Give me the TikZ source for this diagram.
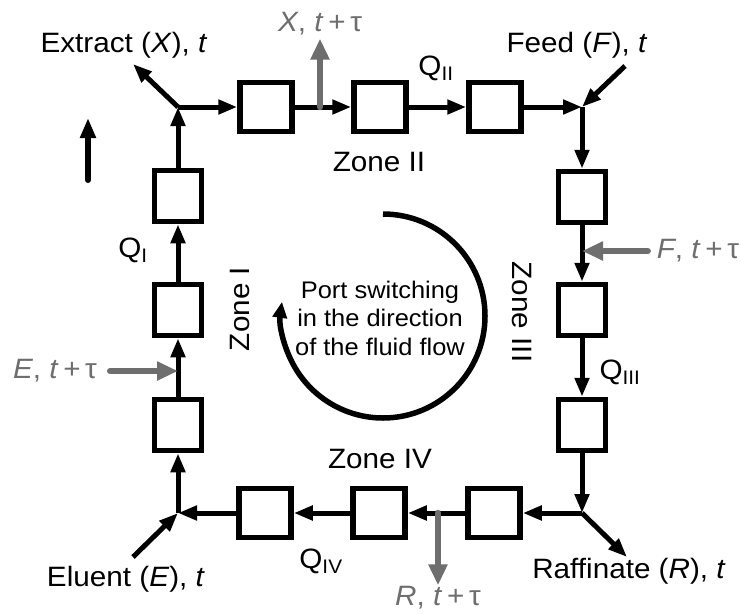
\documentclass[tikz,border=0pt]{standalone}
\usepackage{fontspec}
\setmainfont{Liberation Sans}[FakeStretch=1.06]
\usetikzlibrary{arrows.meta}
\definecolor{portgray}{HTML}{6E6E6E}
\newcommand{\portlbl}[1]{\textit{#1}, \textit{t}\,+\,τ}

\begin{document}
\begin{tikzpicture}[x=1pt,y=-1pt,
    font=\fontsize{28}{32}\selectfont,
    col/.style={draw,line width=5.5pt,inner sep=0pt},
    hcol/.style={col,minimum width=52pt,minimum height=49pt},
    vcol/.style={col,minimum width=47pt,minimum height=51pt},
    flow/.style={-{Triangle[length=19pt,width=14pt]},line width=5pt},
    port/.style={-{Triangle[length=21pt,width=18pt]},line width=6.5pt,
                 draw=portgray,line cap=round},
    glbl/.style={text=portgray,inner sep=1pt},
    lbl/.style={inner sep=1pt},
    zone/.style={inner sep=1pt}
  ]
  \useasboundingbox (0,0) rectangle (741,613);

  % junctions
  \coordinate (jtl) at (178,107);
  \coordinate (jtr) at (582,107);
  \coordinate (jbr) at (582,513);
  \coordinate (jbl) at (178,513);

  % columns
  \node[hcol] (t1) at (266,107) {};
  \node[hcol] (t2) at (380,107) {};
  \node[hcol] (t3) at (495,107) {};
  \node[vcol] (r1) at (582,197) {};
  \node[vcol] (r2) at (582,310) {};
  \node[vcol] (r3) at (582,425) {};
  \node[hcol] (b1) at (494,513) {};
  \node[hcol] (b2) at (379,513) {};
  \node[hcol] (b3) at (265,513) {};
  \node[vcol] (l1) at (178,425) {};
  \node[vcol] (l2) at (178,310) {};
  \node[vcol] (l3) at (178,196) {};

  \draw[flow] (jtl) -- (t1);
  \draw[flow] (t1) -- (t2);
  \draw[flow] (t2) -- (t3);
  \draw[flow] (t3) -- (jtr);
  \draw[flow] (jtr) -- (r1);
  \draw[flow] (r1) -- (r2);
  \draw[flow] (r2) -- (r3);
  \draw[flow] (r3) -- (jbr);
  \draw[flow] (jbr) -- (b1);
  \draw[flow] (b1) -- (b2);
  \draw[flow] (b2) -- (b3);
  \draw[flow] (b3) -- (jbl);
  \draw[flow] (jbl) -- (l1);
  \draw[flow] (l1) -- (l2);
  \draw[flow] (l2) -- (l3);
  \draw[flow] (l3) -- (jtl);

  % inlets and outlets at time t
  \node[lbl] (extract) at (124,45)  {Extract (\textit{X}), \textit{t}};
  \node[lbl] (feed)    at (577,45)  {Feed (\textit{F}), \textit{t}};
  \node[lbl] (raff)    at (629,571) {Raffinate (\textit{R}), \textit{t}};
  \node[lbl] (eluent)  at (126,579) {Eluent (\textit{E}), \textit{t}};
  \coordinate (xout) at (133,64);
  \coordinate (fin)  at (625,66);
  \coordinate (rout) at (627,557);
  \coordinate (ein)  at (133,557);
  \draw[flow] (jtl) -- (xout);
  \draw[flow] (fin) -- (jtr);
  \draw[flow] (jbr) -- (rout);
  \draw[flow] (ein) -- (jbl);

  % ports at t + tau
  \node[glbl] (xlbl) at (320,24)  {\portlbl{X}};
  \node[glbl] (flbl) at (698,251) {\portlbl{F}};
  \node[glbl] (rlbl) at (438,598) {\portlbl{R}};
  \node[glbl] (elbl) at (55,371)  {\portlbl{E}};
  \coordinate (xport) at (320,107);
  \coordinate (fport) at (582,251);
  \coordinate (rport) at (438,513);
  \coordinate (eport) at (178,371);
  \draw[port,shorten >=2pt] (xport) -- (xlbl);
  \draw[port,shorten <=8pt] (flbl) -- (fport);
  \draw[port] (rport) -- (rlbl);
  \draw[port,shorten <=12pt] (elbl) -- (eport);

  % flow rates and zones
  \node[lbl] (q2) at (436,68)  {Q\textsubscript{II}};
  \node[lbl] (q3) at (620,372) {Q\textsubscript{III}};
  \node[lbl] (q4) at (321,561) {Q\textsubscript{IV}};
  \node[lbl] (q1) at (133,250) {Q\textsubscript{I}};
  \node[zone] (z2) at (379,162) {Zone II};
  \node[zone,rotate=-90] (z3) at (522,312) {Zone III};
  \node[zone] (z4) at (380,459) {Zone IV};
  \node[zone,rotate=90] (z1) at (240,309) {Zone I};

  % port switching
  \coordinate (turn) at (383,316);
  \node[align=center,font=\fontsize{24}{28.5}\selectfont] (switch) at (380,318)
    {Port switching\\in the direction\\of the fluid flow};
  \draw[-{Triangle[length=16pt,width=14pt]},line width=5.5pt]
    ([yshift=102pt]turn) arc[start angle=90,end angle=-188,radius=102pt];

  % direction
  \coordinate (dirlo) at (88,180);
  \coordinate (dirhi) at (88,118);
  \draw[-{Triangle[length=20pt,width=15pt]},line width=6pt,line cap=round]
    (dirlo) -- (dirhi);

\end{tikzpicture}
\end{document}
